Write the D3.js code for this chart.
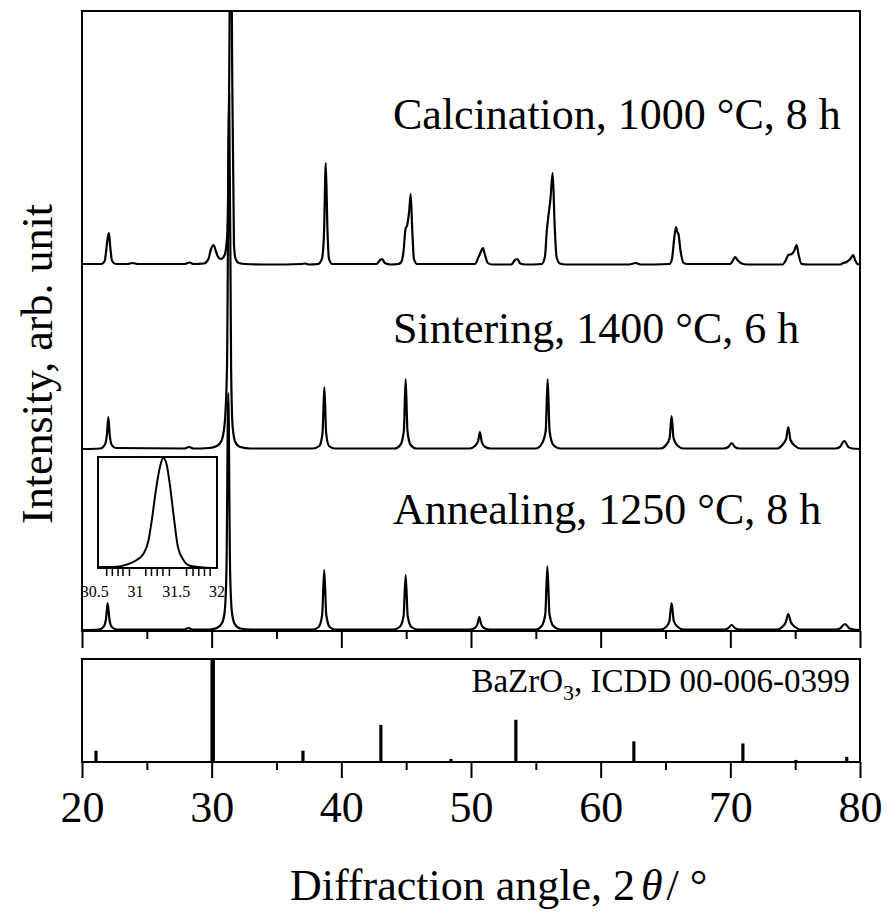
<!DOCTYPE html>
<html>
<head>
<meta charset="utf-8">
<script src="https://cdn.jsdelivr.net/npm/d3@7"></script>
<style>
  body { margin: 0; background: #fff; }
  svg { display: block; }
  text { font-family: "Liberation Serif", "Times New Roman", serif; fill: #000; }
</style>
</head>
<body>
<svg id="chart" width="887" height="919"></svg>
<script>
// ---- Measured XRD patterns: [2θ (°), intensity above own baseline (arb.)] ----
const calcination = [
  [20.0, 1], [20.8, 1], [21.5, 1], [21.75, 4], [21.88, 16], [21.98, 27], [22.08, 32], [22.18, 18], [22.32, 4], [22.6, 1],
  [23.5, 1], [23.9, 2], [24.3, 1],
  [27.9, 1], [28.3, 2.5], [28.6, 1],
  [29.4, 1.5], [29.75, 6], [29.95, 16], [30.15, 20], [30.32, 14], [30.5, 8], [30.72, 6], [31.0, 10], [31.2, 30],
  [31.36, 200], [31.47, 430], [31.58, 200], [31.72, 20], [31.85, 6], [32.1, 2], [32.6, 1],
  [34.5, 0.5], [36.9, 1], [37.2, 1.5], [37.5, 0.5],
  [38.2, 1], [38.5, 6], [38.66, 30], [38.8, 102], [38.93, 35], [39.05, 6], [39.3, 1],
  [42.7, 1], [43.0, 5], [43.15, 6], [43.35, 2], [43.8, 0.5],
  [44.4, 1], [44.62, 3], [44.8, 14], [44.95, 36], [45.08, 40], [45.24, 55], [45.35, 71], [45.47, 35], [45.6, 6], [45.85, 1],
  [50.3, 1], [50.55, 7], [50.72, 12], [50.92, 17], [51.06, 11], [51.3, 2], [51.6, 0.5],
  [53.1, 0.5], [53.4, 5], [53.57, 6], [53.8, 1.5], [54.2, 0.5],
  [55.45, 1], [55.7, 8], [55.85, 35], [55.96, 48], [56.12, 65], [56.3, 92], [56.45, 40], [56.6, 8], [56.85, 1.5], [57.3, 0.5],
  [62.2, 0.5], [62.7, 2], [63.1, 0.5],
  [65.3, 1], [65.5, 6], [65.66, 25], [65.81, 38], [65.91, 33], [66.0, 31], [66.15, 15], [66.4, 2], [66.7, 1],
  [70.0, 1], [70.22, 5], [70.37, 8], [70.55, 5], [70.87, 1.5], [71.3, 0.5],
  [74.0, 0.5], [74.25, 4], [74.47, 10], [74.73, 11], [74.92, 14], [75.11, 20], [75.27, 10], [75.5, 1], [76.0, 0.5],
  [78.5, 0.5], [78.7, 2], [78.97, 3], [79.25, 6], [79.48, 10], [79.62, 5], [79.8, 1], [80.0, 0.5]
];

const sintering = [
  [20.0, 0], [21.4, 0.5], [21.75, 4], [21.92, 14], [22.03, 32], [22.14, 14], [22.3, 4], [22.6, 1],
  [27.9, 0.5], [28.25, 2], [28.6, 0.5],
  [29.8, 1], [30.4, 3], [30.75, 8], [31.0, 25], [31.18, 80], [31.35, 355], [31.5, 80], [31.62, 22], [31.82, 7], [32.2, 2], [33.0, 0.5],
  [37.8, 0.5], [38.3, 3], [38.55, 16], [38.69, 62], [38.83, 16], [39.05, 3], [39.5, 0.5],
  [44.1, 0.5], [44.55, 4], [44.82, 18], [44.96, 70], [45.1, 18], [45.35, 4], [45.8, 0.5],
  [49.9, 0.5], [50.3, 3], [50.55, 8], [50.69, 17], [50.83, 7], [51.1, 2], [51.5, 0.5],
  [55.0, 0.5], [55.45, 5], [55.76, 18], [55.91, 70], [56.06, 18], [56.35, 4], [56.9, 0.5],
  [64.6, 0.5], [65.05, 4], [65.32, 11], [65.47, 33], [65.62, 11], [65.95, 3], [66.4, 0.5],
  [69.5, 0.5], [69.85, 2], [70.1, 6], [70.35, 2], [70.7, 0.5],
  [73.6, 0.5], [74.0, 4], [74.3, 10], [74.47, 22], [74.64, 9], [75.0, 3], [75.4, 0.5],
  [78.1, 0.5], [78.45, 2], [78.79, 8], [79.1, 2], [79.4, 0.5], [80.0, 0]
];

const annealing = [
  [20.0, 0], [21.3, 0.5], [21.65, 3], [21.85, 11], [21.98, 27], [22.11, 11], [22.3, 3], [22.7, 0.5],
  [27.9, 0.5], [28.2, 2], [28.5, 0.5],
  [29.8, 0.5], [30.4, 2], [30.8, 7], [31.0, 18], [31.14, 60], [31.28, 237], [31.42, 60], [31.56, 18], [31.78, 6], [32.2, 1.5], [33.0, 0.5],
  [37.8, 0.5], [38.25, 3], [38.52, 15], [38.68, 60], [38.84, 15], [39.1, 3], [39.5, 0.5],
  [44.0, 0.5], [44.5, 3], [44.8, 14], [44.96, 55], [45.12, 14], [45.4, 3], [45.9, 0.5],
  [49.9, 0.5], [50.3, 2], [50.5, 6], [50.64, 13], [50.78, 6], [51.0, 2], [51.4, 0.5],
  [55.0, 0.5], [55.45, 4], [55.73, 16], [55.89, 64], [56.05, 16], [56.35, 4], [56.9, 0.5],
  [64.6, 0.5], [65.05, 3], [65.3, 9], [65.47, 27], [65.64, 9], [65.95, 3], [66.4, 0.5],
  [69.5, 0.5], [69.8, 1.5], [70.1, 5], [70.4, 1.5], [70.7, 0.5],
  [73.6, 0.5], [74.0, 3], [74.28, 8], [74.47, 16], [74.66, 8], [75.0, 3], [75.4, 0.5],
  [78.1, 0.5], [78.45, 1.5], [78.84, 6], [79.2, 1.5], [79.5, 0.5], [80.0, 0]
];

// Vertical stacking offset of each pattern (same intensity units)
const patternLabels = ["Annealing, 1250 °C, 8 h", "Sintering, 1400 °C, 6 h", "Calcination, 1000 °C, 8 h"];
const patternOffsets = [1, 182, 366];
const labelLevels = [107, 288, 502];   // label baseline level in the same units

// Inset: main reflection of the annealed sample, normalised intensity
const insetPeak = [
  [30.54, 0.01], [30.73, 0.01], [30.89, 0.03], [31.01, 0.07], [31.10, 0.13], [31.16, 0.25], [31.20, 0.43],
  [31.25, 0.70], [31.30, 0.91], [31.34, 0.99], [31.38, 0.94], [31.42, 0.76], [31.47, 0.46], [31.52, 0.19],
  [31.59, 0.07], [31.67, 0.02], [31.83, 0.005], [32.0, 0.0]
];
const insetTickLabels = [30.5, 31, 31.5, 32];
const insetMinorTicks = [30.64, 30.71, 30.78, 30.84, 30.92, 31.12, 31.19, 31.26, 31.33, 31.41, 31.62, 31.70, 31.77, 31.84, 31.91];

// Reference pattern BaZrO3, ICDD 00-006-0399
const refAngles = [21.08, 30.08, 37.04, 43.05, 48.45, 53.46, 62.56, 70.97, 75.05, 78.98];
const refIntensities = [11, 100, 11, 36, 3, 41, 20, 18, 2, 5];

const xMajorTicks = [20, 30, 40, 50, 60, 70, 80];
const xMinorTicks = [25, 35, 45, 55, 65, 75];

// ---- Layout ----
const svg = d3.select("#chart");
const L = 82, R = 860;
const topT = 11, topB = 631;
const botT = 659, botB = 762;
const FS = 44;

const x = d3.scaleLinear().domain([20, 80]).range([L, R]);
const yTop = d3.scaleLinear().domain([0, 620]).range([topB, topT]);
const yBot = d3.scaleLinear().domain([0, 100]).range([botB, botT]);

svg.append("rect").attr("width", 887).attr("height", 919).attr("fill", "#fff");

svg.append("defs").append("clipPath").attr("id", "plotClip")
  .append("rect").attr("x", L).attr("y", topT).attr("width", R - L).attr("height", topB - topT);

// ---- Patterns ----
const patterns = [annealing, sintering, calcination];
const traces = svg.append("g").attr("clip-path", "url(#plotClip)");
patterns.forEach((data, i) => {
  const line = d3.line()
    .x(d => x(d[0]))
    .y(d => yTop(d[1] + patternOffsets[i]))
    .curve(d3.curveMonotoneX);
  traces.append("path")
    .datum(data)
    .attr("d", line)
    .attr("fill", "none")
    .attr("stroke", "#000")
    .attr("stroke-width", 2.2)
    .attr("stroke-linejoin", "round");
});

// Pattern labels
patternLabels.forEach((t, i) => {
  svg.append("text")
    .attr("x", 393)
    .attr("y", yTop(labelLevels[i]))
    .attr("font-size", FS)
    .text(t);
});

// ---- Axes of top panel ----
function drawTicks(y, values, len) {
  svg.append("g")
    .attr("transform", `translate(0,${y})`)
    .call(d3.axisBottom(x).tickValues(values).tickSize(len).tickFormat(""))
    .call(g => g.select(".domain").remove())
    .call(g => g.selectAll("line").attr("stroke", "#000").attr("stroke-width", 2));
}
drawTicks(topB, xMajorTicks, 17);
drawTicks(topB, xMinorTicks, 8);

svg.append("rect")
  .attr("x", L).attr("y", topT).attr("width", R - L).attr("height", topB - topT)
  .attr("fill", "none").attr("stroke", "#000").attr("stroke-width", 2);

// ---- Inset ----
const ix = d3.scaleLinear().domain([30.54, 32.0]).range([98, 217]);
const iy = d3.scaleLinear().domain([0, 1]).range([568, 457]);
const inset = svg.append("g");
inset.append("path")
  .datum(insetPeak)
  .attr("d", d3.line().x(d => ix(d[0])).y(d => iy(d[1])).curve(d3.curveMonotoneX))
  .attr("fill", "none").attr("stroke", "#000").attr("stroke-width", 2);
inset.append("rect")
  .attr("x", 98).attr("y", 457).attr("width", 119).attr("height", 111)
  .attr("fill", "none").attr("stroke", "#000").attr("stroke-width", 2);
inset.append("g")
  .attr("transform", "translate(0,568)")
  .call(d3.axisBottom(ix).tickValues(insetMinorTicks).tickSize(8).tickFormat(""))
  .call(g => g.select(".domain").remove())
  .call(g => g.selectAll("line").attr("stroke", "#000").attr("stroke-width", 1.5));
inset.selectAll("text.il")
  .data(insetTickLabels)
  .join("text")
  .attr("class", "il")
  .attr("x", d => ix(d))
  .attr("y", 597)
  .attr("text-anchor", "middle")
  .attr("font-size", 16)
  .text(d => d);

// ---- Reference panel ----
svg.append("g")
  .selectAll("line")
  .data(refAngles)
  .join("line")
  .attr("x1", d => x(d)).attr("x2", d => x(d))
  .attr("y1", yBot(0))
  .attr("y2", (d, i) => yBot(refIntensities[i]))
  .attr("stroke", "#000")
  .attr("stroke-width", (d, i) => refIntensities[i] === 100 ? 4.5 : 3.2);

svg.append("rect")
  .attr("x", L).attr("y", botT).attr("width", R - L).attr("height", botB - botT)
  .attr("fill", "none").attr("stroke", "#000").attr("stroke-width", 2);

const refLabel = svg.append("text")
  .attr("x", 850).attr("y", 692)
  .attr("text-anchor", "end")
  .attr("font-size", 33);
refLabel.append("tspan").text("BaZrO");
refLabel.append("tspan").attr("font-size", 22).attr("dy", 8).text("3");
refLabel.append("tspan").attr("dy", -8).text(", ICDD 00-006-0399");

// Bottom axis with labels
svg.append("g")
  .attr("transform", `translate(0,${botB})`)
  .call(d3.axisBottom(x).tickValues(xMajorTicks).tickSize(16).tickPadding(13).tickFormat(d3.format("d")))
  .call(g => g.select(".domain").remove())
  .call(g => g.selectAll("line").attr("stroke", "#000").attr("stroke-width", 2))
  .call(g => g.selectAll("text")
    .attr("font-size", FS)
    .attr("font-family", "'Liberation Serif', 'Times New Roman', serif")
    .attr("fill", "#000"));
drawTicks(botB, xMinorTicks, 8);

// ---- Axis titles ----
const xt = svg.append("text")
  .attr("x", 290).attr("y", 900)
  .attr("font-size", FS);
xt.append("tspan").text("Diffraction angle, 2");
xt.append("tspan").attr("font-style", "italic").attr("dx", 6).text("θ");
xt.append("tspan").attr("dx", 4).text("/ °");

svg.append("text")
  .attr("transform", "translate(52,364) rotate(-90)")
  .attr("text-anchor", "middle")
  .attr("font-size", FS)
  .text("Intensity, arb. unit");
</script>
</body>
</html>
